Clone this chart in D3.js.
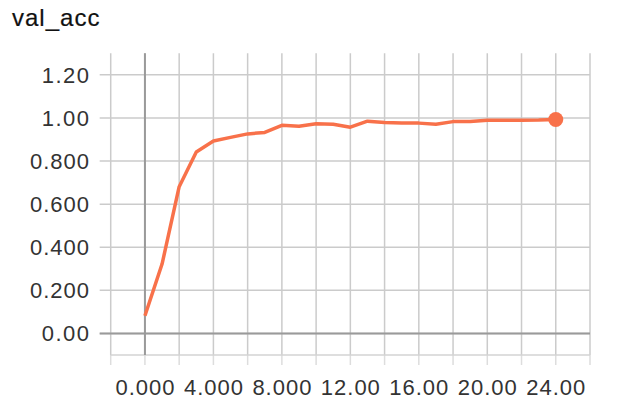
<!DOCTYPE html>
<html>
<head>
<meta charset="utf-8">
<script src="https://cdn.jsdelivr.net/npm/d3@7"></script>
<style>
  body { margin: 0; background: #fff; }
  text { font-family: "Liberation Sans", Arial, sans-serif; }
</style>
</head>
<body>
<div id="chart"></div>
<script>
// epochs and validation accuracy
var steps = [0, 1, 2, 3, 4, 5, 6, 7, 8, 9, 10, 11, 12, 13, 14, 15, 16, 17, 18, 19, 20, 21, 22, 23, 24];
var valAcc = [0.082, 0.322, 0.681, 0.842, 0.893, 0.910, 0.926, 0.933, 0.966, 0.961, 0.973, 0.971, 0.957,
              0.985, 0.979, 0.977, 0.976, 0.971, 0.983, 0.983, 0.989, 0.989, 0.989, 0.990, 0.993];

var xTickValues = [0, 4, 8, 12, 16, 20, 24];
var xTickLabels = ["0.000", "4.000", "8.000", "12.00", "16.00", "20.00", "24.00"];
var yTickValues = [0, 0.2, 0.4, 0.6, 0.8, 1.0, 1.2];
var yTickLabels = ["0.00", "0.200", "0.400", "0.600", "0.800", "1.00", "1.20"];

var W = 642, H = 410;
var plotL = 110.7, plotR = 590, plotT = 53.3, plotB = 355;

var svg = d3.select("#chart").append("svg")
    .attr("width", W)
    .attr("height", H);

var x = d3.scaleLinear().domain([-2, 26]).range([plotL, plotR]);
var y = d3.scaleLinear().domain([-0.1, 1.3]).range([plotB, plotT]);

svg.append("text")
    .attr("x", 12)
    .attr("y", 26)
    .attr("font-size", 24)
    .attr("letter-spacing", 1)
    .attr("fill", "#111")
    .attr("stroke", "#111")
    .attr("stroke-width", 0.2)
    .text("val_acc");

// vertical grid every 2 steps
var xGrid = d3.range(-2, 27, 2);
svg.append("g").selectAll("line")
    .data(xGrid).enter().append("line")
    .attr("x1", d => x(d)).attr("x2", d => x(d))
    .attr("y1", plotB).attr("y2", plotB + 10)
    .attr("stroke", "#ddd").attr("stroke-width", 1.5);
svg.append("g").selectAll("line")
    .data(xGrid).enter().append("line")
    .attr("x1", d => x(d)).attr("x2", d => x(d))
    .attr("y1", plotT).attr("y2", plotB)
    .attr("stroke", "#cbcbcb").attr("stroke-width", 1.5);

// horizontal grid
svg.append("g").selectAll("line")
    .data(yTickValues).enter().append("line")
    .attr("x1", plotL - 11).attr("x2", plotR)
    .attr("y1", d => y(d)).attr("y2", d => y(d))
    .attr("stroke", "#cbcbcb").attr("stroke-width", 1.5);
svg.append("line")
    .attr("x1", plotL).attr("x2", plotR)
    .attr("y1", plotB).attr("y2", plotB)
    .attr("stroke", "#d3d3d3").attr("stroke-width", 1.5);

// zero axes
svg.append("line")
    .attr("x1", x(0)).attr("x2", x(0))
    .attr("y1", plotT).attr("y2", plotB)
    .attr("stroke", "#9a9a9a").attr("stroke-width", 2);
svg.append("line")
    .attr("x1", plotL - 11).attr("x2", plotR)
    .attr("y1", y(0)).attr("y2", y(0))
    .attr("stroke", "#9a9a9a").attr("stroke-width", 2);

// tick labels
svg.append("g").selectAll("text")
    .data(yTickValues).enter().append("text")
    .attr("x", 89)
    .attr("y", d => y(d))
    .attr("dy", "0.36em")
    .attr("text-anchor", "end")
    .attr("font-size", 22)
    .attr("textLength", (d, i) => yTickLabels[i].length * 11.8)
    .attr("fill", "#333")
    .text((d, i) => yTickLabels[i]);

svg.append("g").selectAll("text")
    .data(xTickValues).enter().append("text")
    .attr("x", d => x(d))
    .attr("y", 395)
    .attr("text-anchor", "middle")
    .attr("font-size", 22)
    .attr("textLength", 59)
    .attr("fill", "#333")
    .text((d, i) => xTickLabels[i]);

var line = d3.line()
    .x((d, i) => x(steps[i]))
    .y(d => y(d));

svg.append("path")
    .datum(valAcc)
    .attr("d", line)
    .attr("fill", "none")
    .attr("stroke", "#f8714a")
    .attr("stroke-width", 3.5)
    .attr("stroke-linejoin", "round");

var last = valAcc.length - 1;
svg.append("circle")
    .attr("cx", x(steps[last]))
    .attr("cy", y(valAcc[last]))
    .attr("r", 7.5)
    .attr("fill", "#f8714a");
</script>
</body>
</html>
